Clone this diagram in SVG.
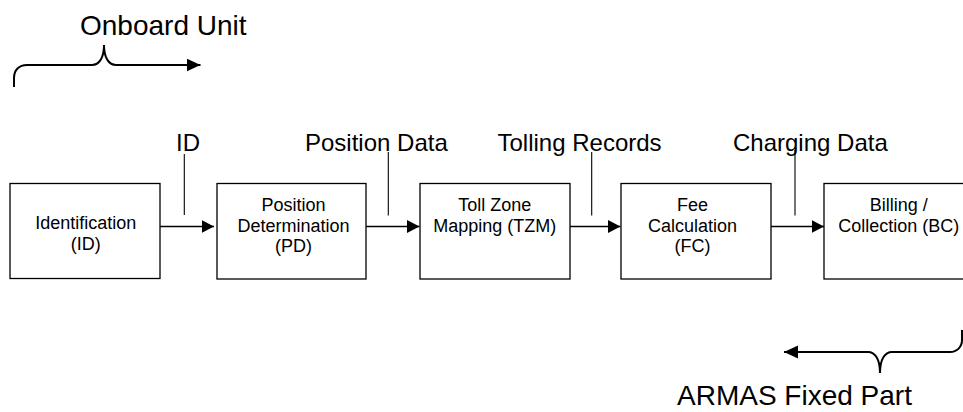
<svg xmlns="http://www.w3.org/2000/svg" width="963" height="412" viewBox="0 0 963 412">
  <style>
    .box { fill: #ffffff; stroke: #000000; stroke-width: 1.3; }
    .conn { fill: none; stroke: #000000; stroke-width: 1.3; }
    .lead { fill: none; stroke: #000000; stroke-width: 1.1; }
    .brace { fill: none; stroke: #000000; stroke-width: 2; }
    .bt { font-family: "Liberation Sans", Arial, sans-serif; font-size: 18px; fill: #000000; text-anchor: middle; }
    .lbl { font-family: "Liberation Sans", Arial, sans-serif; font-size: 24px; fill: #000000; }
    .big { font-family: "Liberation Sans", Arial, sans-serif; font-size: 28px; fill: #000000; }
  </style>
  <defs>
    <marker id="ah" markerUnits="userSpaceOnUse" markerWidth="14" markerHeight="14" refX="12.5" refY="6.5" orient="auto">
      <path d="M0,0 L12.5,6.5 L0,13 z" fill="#000000"/>
    </marker>
    <marker id="ahb" markerUnits="userSpaceOnUse" markerWidth="16" markerHeight="14" refX="14" refY="6.5" orient="auto">
      <path d="M0,0 L14,6.5 L0,13 z" fill="#000000"/>
    </marker>
  </defs>

  <g id="onboard-unit">
    <text class="big" x="80" y="35">Onboard Unit</text>
    <path class="brace" d="M14,87 L14,78 C14,70 19,65 27,65 L92,65 C99,65 104,58 104,45 C104,58 109,65 116,65 L200.5,65" marker-end="url(#ahb)"/>
  </g>

  <g id="armas-fixed-part">
    <text class="big" x="677" y="405">ARMAS Fixed Part</text>
    <path class="brace" d="M962,330 L962,340 C962,347 957,352 950,352 L892,352 C885,352 880,359 880,373 C880,359 875,352 868,352 L784,352" marker-end="url(#ahb)"/>
  </g>

  <g id="node-id">
    <rect class="box" x="10" y="183.5" width="150" height="95"/>
    <text class="bt" x="85.8" y="229.3">Identification</text>
    <text class="bt" x="85.8" y="249.5">(ID)</text>
  </g>

  <g id="node-pd">
    <rect class="box" x="217" y="183.5" width="149" height="95.5"/>
    <text class="bt" x="293.5" y="211">Position</text>
    <text class="bt" x="293.5" y="231.7">Determination</text>
    <text class="bt" x="293.5" y="252.4">(PD)</text>
  </g>

  <g id="node-tzm">
    <rect class="box" x="420" y="183.5" width="150" height="95.5"/>
    <text class="bt" x="494.7" y="211">Toll Zone</text>
    <text class="bt" x="494.7" y="231.7">Mapping (TZM)</text>
  </g>

  <g id="node-fc">
    <rect class="box" x="621" y="183.5" width="150" height="95.5"/>
    <text class="bt" x="692.5" y="211">Fee</text>
    <text class="bt" x="692.5" y="231.7">Calculation</text>
    <text class="bt" x="692.5" y="252.4">(FC)</text>
  </g>

  <g id="node-bc">
    <rect class="box" x="824" y="183.5" width="150" height="95.5"/>
    <text class="bt" x="898.8" y="211">Billing /</text>
    <text class="bt" x="898.8" y="231.7">Collection (BC)</text>
  </g>

  <g id="connectors">
    <line class="conn" x1="160" y1="226.5" x2="214" y2="226.5" marker-end="url(#ah)"/>
    <line class="conn" x1="366" y1="226.5" x2="419.5" y2="226.5" marker-end="url(#ah)"/>
    <line class="conn" x1="570" y1="226.5" x2="620.5" y2="226.5" marker-end="url(#ah)"/>
    <line class="conn" x1="771" y1="226.5" x2="824" y2="226.5" marker-end="url(#ah)"/>
  </g>

  <g id="connector-labels">
    <text class="lbl" x="176" y="151">ID</text>
    <line class="lead" x1="184.3" y1="154" x2="184.3" y2="215"/>
    <text class="lbl" x="305" y="151">Position Data</text>
    <line class="lead" x1="388.3" y1="152" x2="388.3" y2="215.5"/>
    <text class="lbl" x="497.5" y="151">Tolling Records</text>
    <line class="lead" x1="591.7" y1="152" x2="591.7" y2="215.5"/>
    <text class="lbl" x="733" y="151">Charging Data</text>
    <line class="lead" x1="795" y1="150" x2="795" y2="215.5"/>
  </g>
</svg>
